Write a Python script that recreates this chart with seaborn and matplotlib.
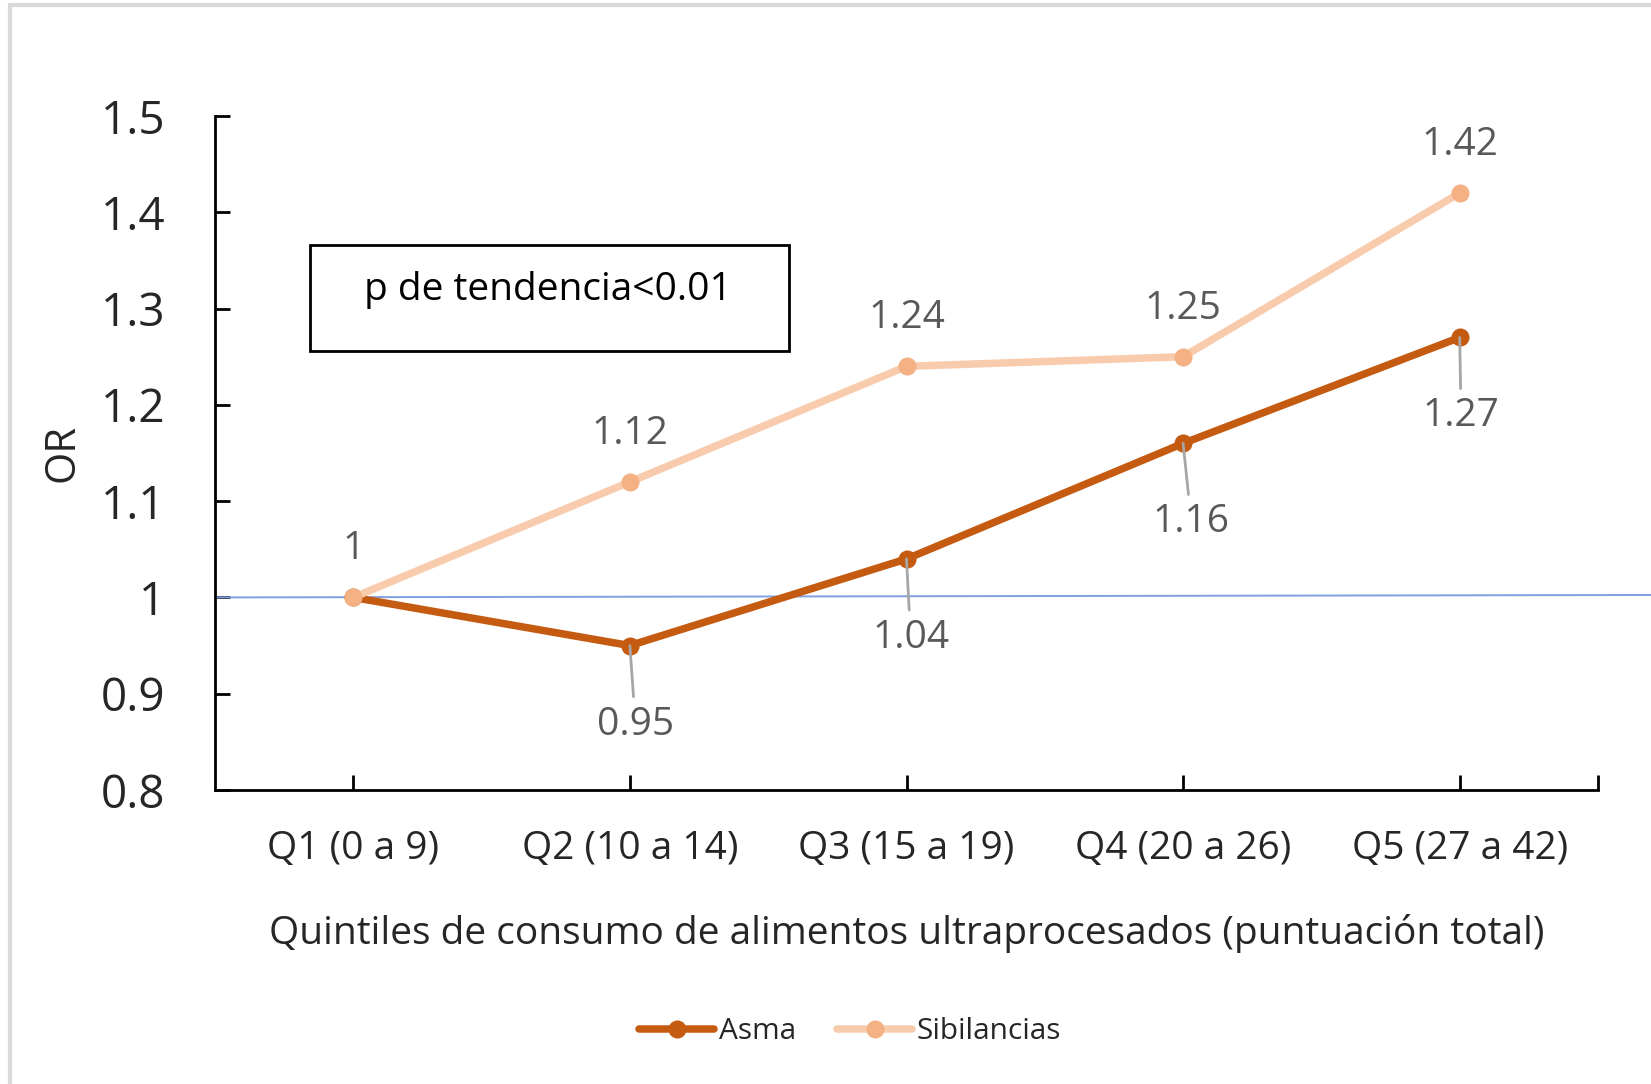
import numpy as np
import pandas as pd
import matplotlib.pyplot as plt
import seaborn as sns
from matplotlib.patches import Rectangle
from matplotlib.lines import Line2D

sns.set_style("white")
plt.rcParams["font.family"] = ["Open Sans", "DejaVu Sans"]

quintiles = ["Q1 (0 a 9)", "Q2 (10 a 14)", "Q3 (15 a 19)", "Q4 (20 a 26)", "Q5 (27 a 42)"]
asma = [1.00, 0.95, 1.04, 1.16, 1.27]
sibilancias = [1.00, 1.12, 1.24, 1.25, 1.42]
asma_labels = ["0.95", "1.04", "1.16", "1.27"]      # Q1 point carries no asma label
sib_labels = ["1", "1.12", "1.24", "1.25", "1.42"]
y_ticks = [0.8, 0.9, 1.0, 1.1, 1.2, 1.3, 1.4, 1.5]
y_ticklabels = ["0.8", "0.9", "1", "1.1", "1.2", "1.3", "1.4", "1.5"]

df = pd.DataFrame({
    "x": list(range(len(quintiles))) * 2,
    "OR": asma + sibilancias,
    "serie": ["Asma"] * 5 + ["Sibilancias"] * 5,
})

c_asma = "#C55A11"
c_sib = "#F8CBAD"
c_sib_mk = "#F4B183"
c_lab = "#595959"
fs = 28

fig = plt.figure(figsize=(16.51, 10.84), dpi=100)
ax = fig.add_axes([215 / 1651, 1 - 790 / 1084, 1383 / 1651, 674 / 1084])

# reference line at OR = 1 running off to the right edge
ax.plot([-0.5, 5.65], [1.0, 1.003], color="#7F9FDF", lw=1.4, clip_on=False, zorder=1)

sns.lineplot(data=df, x="x", y="OR", hue="serie", palette={"Asma": c_asma, "Sibilancias": c_sib},
             linewidth=5.4, marker="o", markersize=13, markeredgewidth=0, ax=ax, legend=False,
             zorder=3)
# darker dots on the light series
ax.lines[-1].set_markerfacecolor(c_sib_mk)
for ln in ax.lines[1:]:
    ln.set_solid_capstyle("round")

ax.set_xlim(-0.5, 4.5)
ax.set_ylim(0.8, 1.5)
ax.set_yticks(y_ticks)
ax.set_yticklabels(y_ticklabels, fontsize=33)
ax.set_xticks(range(len(quintiles)))
ax.set_xticklabels(quintiles, fontsize=fs)
ax.set_xticks([4.5], minor=True)
ax.tick_params(axis="both", which="both", direction="in", length=11, width=2, color="black",
               bottom=True, left=True)
ax.tick_params(axis="y", pad=36)
ax.tick_params(axis="x", which="major", pad=29)
for s in ["top", "right"]:
    ax.spines[s].set_visible(False)
for s in ["left", "bottom"]:
    ax.spines[s].set_color("black")
    ax.spines[s].set_linewidth(2)

ax.set_ylabel("OR", fontsize=30, labelpad=12)
ax.set_xlabel("Quintiles de consumo de alimentos ultraprocesados (puntuación total)", fontsize=fs, labelpad=33)

# data labels, sibilancias above
for i, (v, t) in enumerate(zip(sibilancias, sib_labels)):
    ax.text(i, v + 0.05, t, ha="center", va="center", fontsize=fs, color=c_lab)

# data labels, asma below with leader lines
dx = [0.02, 0.015, 0.03, 0.005]
for i, (v, t, d) in enumerate(zip(asma[1:], asma_labels, dx), start=1):
    ax.annotate(t, xy=(i, v), xytext=(i + d, v - 0.082), ha="center", va="center",
                fontsize=fs, color=c_lab,
                arrowprops=dict(arrowstyle="-", color="#A6A6A6", lw=2, shrinkA=4, shrinkB=0))

# text box
ax.add_patch(Rectangle((0.0687, 0.651), 0.3463, 0.1576, transform=ax.transAxes,
                       fill=False, edgecolor="black", lw=2, clip_on=False))
ax.text(0.2405, 0.742, "p de tendencia<0.01", transform=ax.transAxes, ha="center",
        va="center", fontsize=fs, color="black")

# legend
handles = [
    Line2D([], [], color=c_asma, lw=5.4, marker="o", markersize=13, markeredgewidth=0),
    Line2D([], [], color=c_sib, lw=5.4, marker="o", markersize=13, markeredgewidth=0,
           markerfacecolor=c_sib_mk),
]
fig.legend(handles, ["Asma", "Sibilancias"], loc="center", bbox_to_anchor=(0.515, 0.048),
           ncol=2, frameon=False, fontsize=21.5, handlelength=2.5, handletextpad=0.15,
           columnspacing=1.4)

# outer light frame
fig.patches.append(Rectangle((10 / 1651, -0.1), 1.2, 1 - 5 / 1084 + 0.1, transform=fig.transFigure,
                             fill=False, edgecolor="#D9D9D9", lw=3, zorder=0))

fig.savefig("out.png", dpi=100)
